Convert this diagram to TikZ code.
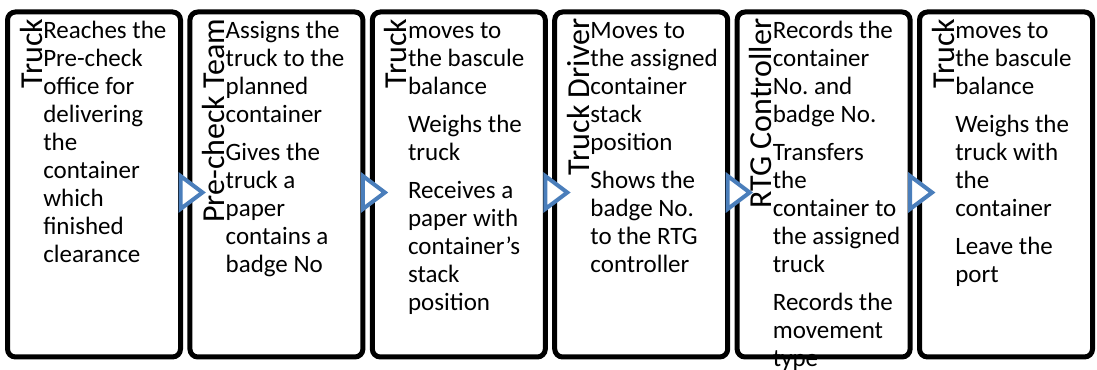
\documentclass[tikz,border=0pt]{standalone}
\usepackage{fontspec}
\setmainfont{Carlito}
\usetikzlibrary{calc}
\frenchspacing

\definecolor{accentblue}{HTML}{4A7EBB}

\tikzset{
  stage/.style={draw=black, line width=3.75pt, rounded corners=6pt, fill=white,
    minimum width=129.75pt, minimum height=258.75pt, inner sep=0pt},
  actor/.style={rotate=90, anchor=base east, inner sep=0pt,
    font=\fontsize{24pt}{28pt}\selectfont},
  duty/.style={anchor=north west, align=left, inner sep=0pt,
    font=\fontsize{18.75pt}{21pt}\selectfont},
  pointer/.style={draw=accentblue, line width=3pt, fill=white},
}

\begin{document}
\begin{tikzpicture}[x=0.75pt,y=-0.75pt]
    \useasboundingbox (0,0) rectangle (1097,370);

    % the six stages
    \foreach \i in {1,...,6} {
        \node[stage] (box\i) at ({94+182.4*(\i-1)},184.5) {};
    };

    % blue pointers from one stage to the next
    \foreach \i in {1,...,5} {
        \draw[pointer] ($(box\i.east)+(-2.5,8)$) -- ++(0,-16.5) -- ++(22,16.5) -- ++(-22,16.5) -- cycle;
    };

    % who does it, and what is done
    \foreach \i/\who/\what in {
        1/Truck/{Reaches the\\Pre-check\\office for\\delivering\\the\\container\\which\\finished\\clearance},
        2/Pre-check Team/{Assigns the\\truck to the\\planned\\container\\[7.5pt]Gives the\\truck a\\paper\\contains a\\badge No},
        3/Truck/{moves to\\the bascule\\balance\\[7.5pt]Weighs the\\truck\\[7.5pt]Receives a\\paper with\\container’s\\stack\\position},
        4/Truck Driver/{Moves to\\the assigned\\container\\stack\\position\\[7.5pt]Shows the\\badge No.\\to the RTG\\controller},
        5/RTG Controller/{Records the\\container\\No. and\\badge No.\\[7.5pt]Transfers\\the\\container to\\the assigned\\truck\\[7.5pt]Records the\\movement\\type},
        6/Truck/{moves to\\the bascule\\balance\\[7.5pt]Weighs the\\truck with\\the\\container\\[7.5pt]Leave the\\port}} {
        \node[actor] (who\i) at ($(box\i.north west)+(37,9)$) {\who};
        \node[duty] (what\i) at ($(box\i.north west)+(38,8.9)$) {\strut\what};
    };
\end{tikzpicture}
\end{document}
